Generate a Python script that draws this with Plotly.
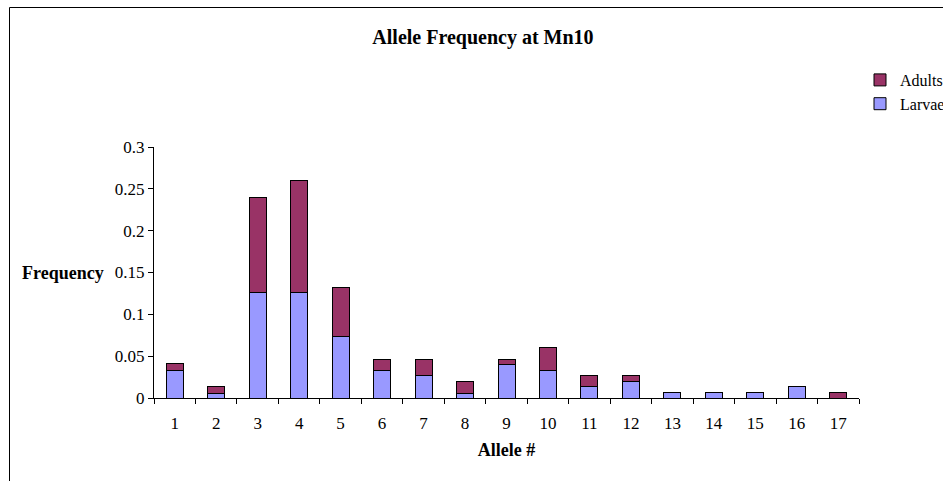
import plotly.graph_objects as go

alleles = [str(i) for i in range(1, 18)]
larvae = [0.033, 0.0056, 0.126, 0.126, 0.0735, 0.033, 0.0266, 0.0056, 0.040,
          0.033, 0.0133, 0.0195, 0.0067, 0.0067, 0.0067, 0.0133, 0.0]
totals = [0.041, 0.0135, 0.240, 0.2595, 0.132, 0.0465, 0.0465, 0.020, 0.0465,
          0.060, 0.027, 0.027, 0.0067, 0.0067, 0.0067, 0.0133, 0.0067]
adults = [round(t - l, 4) for t, l in zip(totals, larvae)]
y_ticks = [0, 0.05, 0.1, 0.15, 0.2, 0.25, 0.3]
y_tick_text = ["0", "0.05", "0.1", "0.15", "0.2", "0.25", "0.3"]

FONT = "Liberation Serif"

fig = go.Figure()
fig.add_trace(go.Bar(x=alleles, y=larvae, name="Larvae",
                     marker=dict(color="#9999FF", line=dict(color="black", width=1))))
fig.add_trace(go.Bar(x=alleles, y=adults, name="Adults",
                     marker=dict(color="#993366", line=dict(color="black", width=1))))

W, H = 943, 481
L, R, T, B = 154, 84, 147, 83
pw = W - L - R
ph = H - T - B

def px(x):
    return (x - L) / pw

def py(y):
    return (H - B - y) / ph

fig.update_layout(
    width=W, height=H,
    margin=dict(l=L, r=R, t=T, b=B, autoexpand=False),
    barmode="stack",
    bargap=0.59,
    paper_bgcolor="white",
    plot_bgcolor="white",
    font=dict(family=FONT, size=17, color="black"),
    title=dict(text="<b>Allele Frequency at Mn10</b>", x=483 / W, xanchor="center",
               y=1 - 37 / H, yanchor="middle", font=dict(family=FONT, size=20, color="black")),
    showlegend=True,
    legend=dict(x=px(860), y=py(63), xanchor="left", yanchor="top",
                traceorder="reversed", font=dict(family=FONT, size=16, color="black"),
                bgcolor="rgba(0,0,0,0)", itemwidth=30),
    xaxis=dict(type="category", showline=True, linecolor="black", linewidth=1,
               ticks="outside", ticklen=5, tickcolor="black", tickson="boundaries",
               ticklabelstandoff=10,
               showgrid=False, zeroline=False,
               title=dict(text="<b>Allele #</b>", font=dict(family=FONT, size=18), standoff=10),
               tickfont=dict(family=FONT, size=17)),
    yaxis=dict(range=[0, 0.3], tickvals=y_ticks, ticktext=y_tick_text,
               showline=True, linecolor="black", linewidth=1,
               ticks="outside", ticklen=5, tickcolor="black",
               showgrid=False, zeroline=False,
               tickfont=dict(family=FONT, size=17)),
    shapes=[dict(type="rect", xref="paper", yref="paper",
                 x0=px(9.5), x1=px(960), y0=py(500), y1=py(7.5),
                 line=dict(color="black", width=1), layer="below")],
    annotations=[dict(text="<b>Frequency</b>", xref="paper", yref="paper",
                      x=px(106), y=py(273), xanchor="right", yanchor="middle",
                      showarrow=False, font=dict(family=FONT, size=18, color="black"))],
)

fig.write_html("out.html")
